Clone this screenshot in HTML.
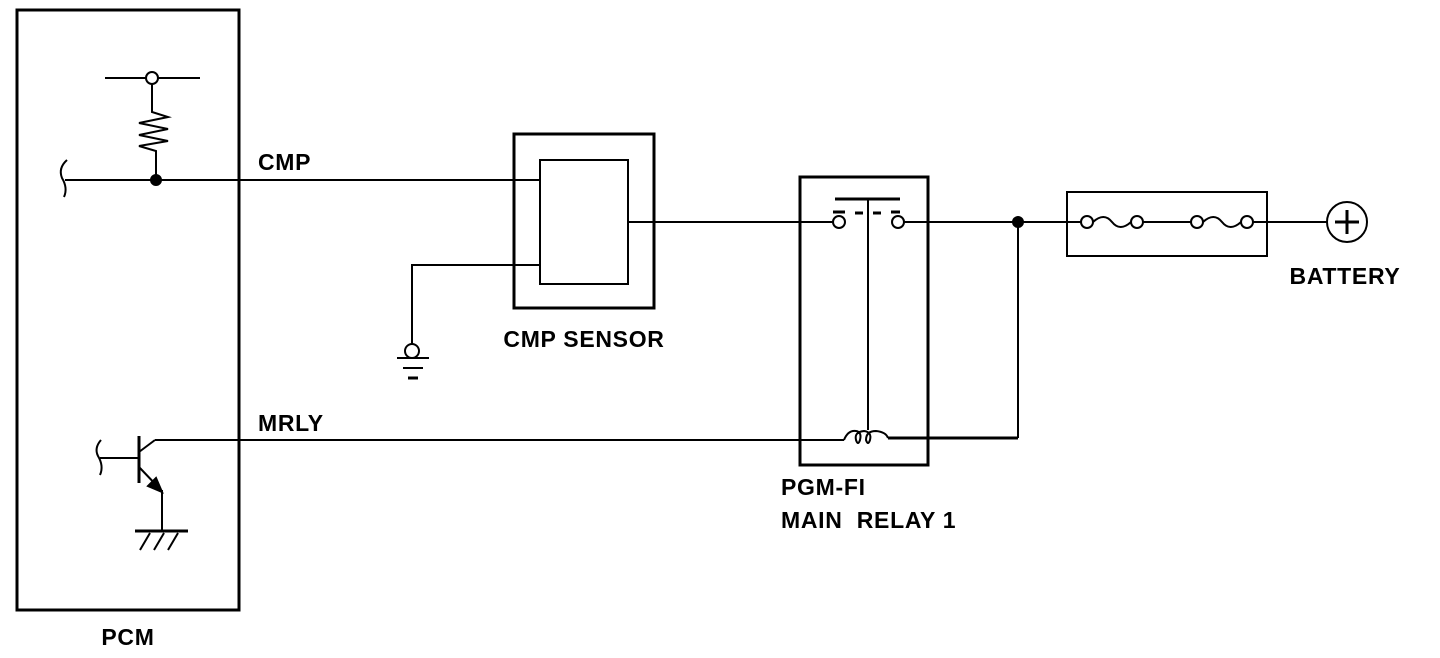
<!DOCTYPE html>
<html><head><style>body{margin:0;background:#fff}svg{display:block}text{font-family:"Liberation Sans",sans-serif;font-weight:bold;font-size:23px;letter-spacing:0.7px;fill:#000}</style></head><body>
<svg width="1440" height="658" viewBox="0 0 1440 658" xmlns="http://www.w3.org/2000/svg" fill="none" stroke="#000" stroke-width="2">
<rect x="17" y="10" width="222" height="600" stroke-width="3"/>
<text x="128" y="645" text-anchor="middle" stroke="none">PCM</text>
<line x1="105" y1="78" x2="200" y2="78"/>
<circle cx="152" cy="78" r="6" fill="#fff"/>
<polyline points="152,84 152,112 168,117 139,123 168,129 139,135 168,141 139,146 156,151 156,180" stroke-width="2"/>
<line x1="65" y1="180" x2="540" y2="180"/>
<path d="M67,160 Q58,168 62,178 Q68,188 64,197"/>
<circle cx="156" cy="180" r="5" fill="#000"/>
<text x="258" y="170" stroke="none">CMP</text>
<rect x="514" y="134" width="140" height="174" stroke-width="3"/>
<rect x="540" y="160" width="88" height="124"/>
<text x="584" y="347" text-anchor="middle" stroke="none">CMP SENSOR</text>
<polyline points="540,265 412,265 412,344"/>
<circle cx="412" cy="351" r="7"/>
<line x1="397" y1="358" x2="429" y2="358"/>
<line x1="403" y1="368" x2="423" y2="368"/>
<line x1="408" y1="378" x2="418" y2="378" stroke-width="3"/>
<line x1="628" y1="222" x2="833" y2="222"/>
<rect x="800" y="177" width="128" height="288" stroke-width="3"/>
<line x1="835" y1="199" x2="900" y2="199" stroke-width="3"/>
<line x1="868" y1="199" x2="868" y2="430"/>
<line x1="833" y1="212" x2="845" y2="212" stroke-width="3"/>
<line x1="855" y1="213" x2="863" y2="213" stroke-width="3"/>
<line x1="873" y1="213" x2="881" y2="213" stroke-width="3"/>
<line x1="891" y1="212" x2="900" y2="212" stroke-width="3"/>
<circle cx="839" cy="222" r="6" fill="#fff"/>
<circle cx="898" cy="222" r="6" fill="#fff"/>
<line x1="904" y1="222" x2="1067" y2="222"/>
<circle cx="1018" cy="222" r="5" fill="#000"/>
<line x1="1018" y1="222" x2="1018" y2="438"/>
<line x1="155" y1="440" x2="844" y2="440"/>
<path d="M844,440 Q848,430 856,431 Q862,432 860,440 Q858,446 856,440 Q854,432 864,431 Q872,432 870,440 Q868,446 866,440 Q866,431 876,431 Q886,432 888,438" stroke-width="2"/>
<polyline points="888,438 1018,438" stroke-width="3"/>
<text x="781" y="495" stroke="none">PGM-FI</text>
<text x="781" y="528" stroke="none" xml:space="preserve">MAIN  RELAY 1</text>
<rect x="1067" y="192" width="200" height="64"/>
<line x1="1067" y1="222" x2="1081" y2="222"/>
<circle cx="1087" cy="222" r="6"/>
<path d="M1093,222 Q1104,212 1112,222 Q1120,232 1131,222"/>
<circle cx="1137" cy="222" r="6"/>
<line x1="1143" y1="222" x2="1191" y2="222"/>
<circle cx="1197" cy="222" r="6"/>
<path d="M1203,222 Q1214,212 1222,222 Q1230,232 1241,222"/>
<circle cx="1247" cy="222" r="6"/>
<line x1="1253" y1="222" x2="1327" y2="222"/>
<circle cx="1347" cy="222" r="20"/>
<line x1="1335" y1="222" x2="1359" y2="222" stroke-width="3"/>
<line x1="1347" y1="210" x2="1347" y2="234" stroke-width="3"/>
<text x="1345" y="284" text-anchor="middle" stroke="none">BATTERY</text>
<text x="258" y="431" stroke="none">MRLY</text>
<line x1="139" y1="436" x2="139" y2="483" stroke-width="3"/>
<line x1="100" y1="458" x2="139" y2="458"/>
<path d="M101,440 Q94,448 98,456 Q104,466 100,475"/>
<polyline points="139,452 155,440"/>
<line x1="139" y1="467" x2="160" y2="489"/>
<polygon points="162,492 148,486 156,478" fill="#000"/>
<polyline points="162,490 162,531"/>
<line x1="135" y1="531" x2="188" y2="531" stroke-width="3"/>
<line x1="150" y1="533" x2="140" y2="550"/>
<line x1="164" y1="533" x2="154" y2="550"/>
<line x1="178" y1="533" x2="168" y2="550"/>
</svg>
</body></html>
